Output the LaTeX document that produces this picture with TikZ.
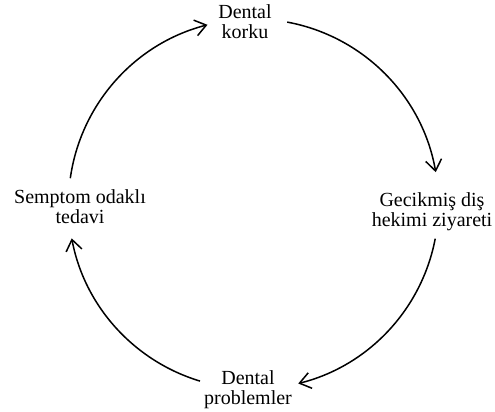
\documentclass[tikz,border=0pt]{standalone}
\usepackage{fontspec}
\setmainfont{Liberation Serif}
\usepackage{tikz}
\usetikzlibrary{arrows.meta}

\tikzset{
  lbl/.style={align=center,inner sep=0pt,font=\fontsize{20}{20}\selectfont},
  cyc/.style={line width=1.5pt,-{Straight Barb[length=11pt,width=16pt]}}
}

\begin{document}
\begin{tikzpicture}[x=1pt,y=1pt]
\useasboundingbox (0,0) rectangle (495,-412);
% labels:
\node[lbl] (korku) at (245,-22) {Dental\\korku};
\node[lbl] (ziyaret) at (432,-212) {Gecikmiş diş\\hekimi ziyareti};
\node[lbl] (problem) at (248,-390) {Dental\\problemler};
\node[lbl] (tedavi) at (80,-207) {Semptom odaklı\\tedavi};
% cycle:
\coordinate (c) at (253.5,-204);
\draw[cyc] ([shift={(172:185)}]c) arc[start angle=172,end angle=104.4,radius=185];
\draw[cyc] ([shift={(79.5:185)}]c) arc[start angle=79.5,end angle=9.9,radius=185];
\draw[cyc] ([shift={(-10.8:185)}]c) arc[start angle=-10.8,end angle=-76,radius=185];
\draw[cyc] ([shift={(-106.8:185)}]c) arc[start angle=-106.8,end angle=-169.3,radius=185];
\end{tikzpicture}
\end{document}
